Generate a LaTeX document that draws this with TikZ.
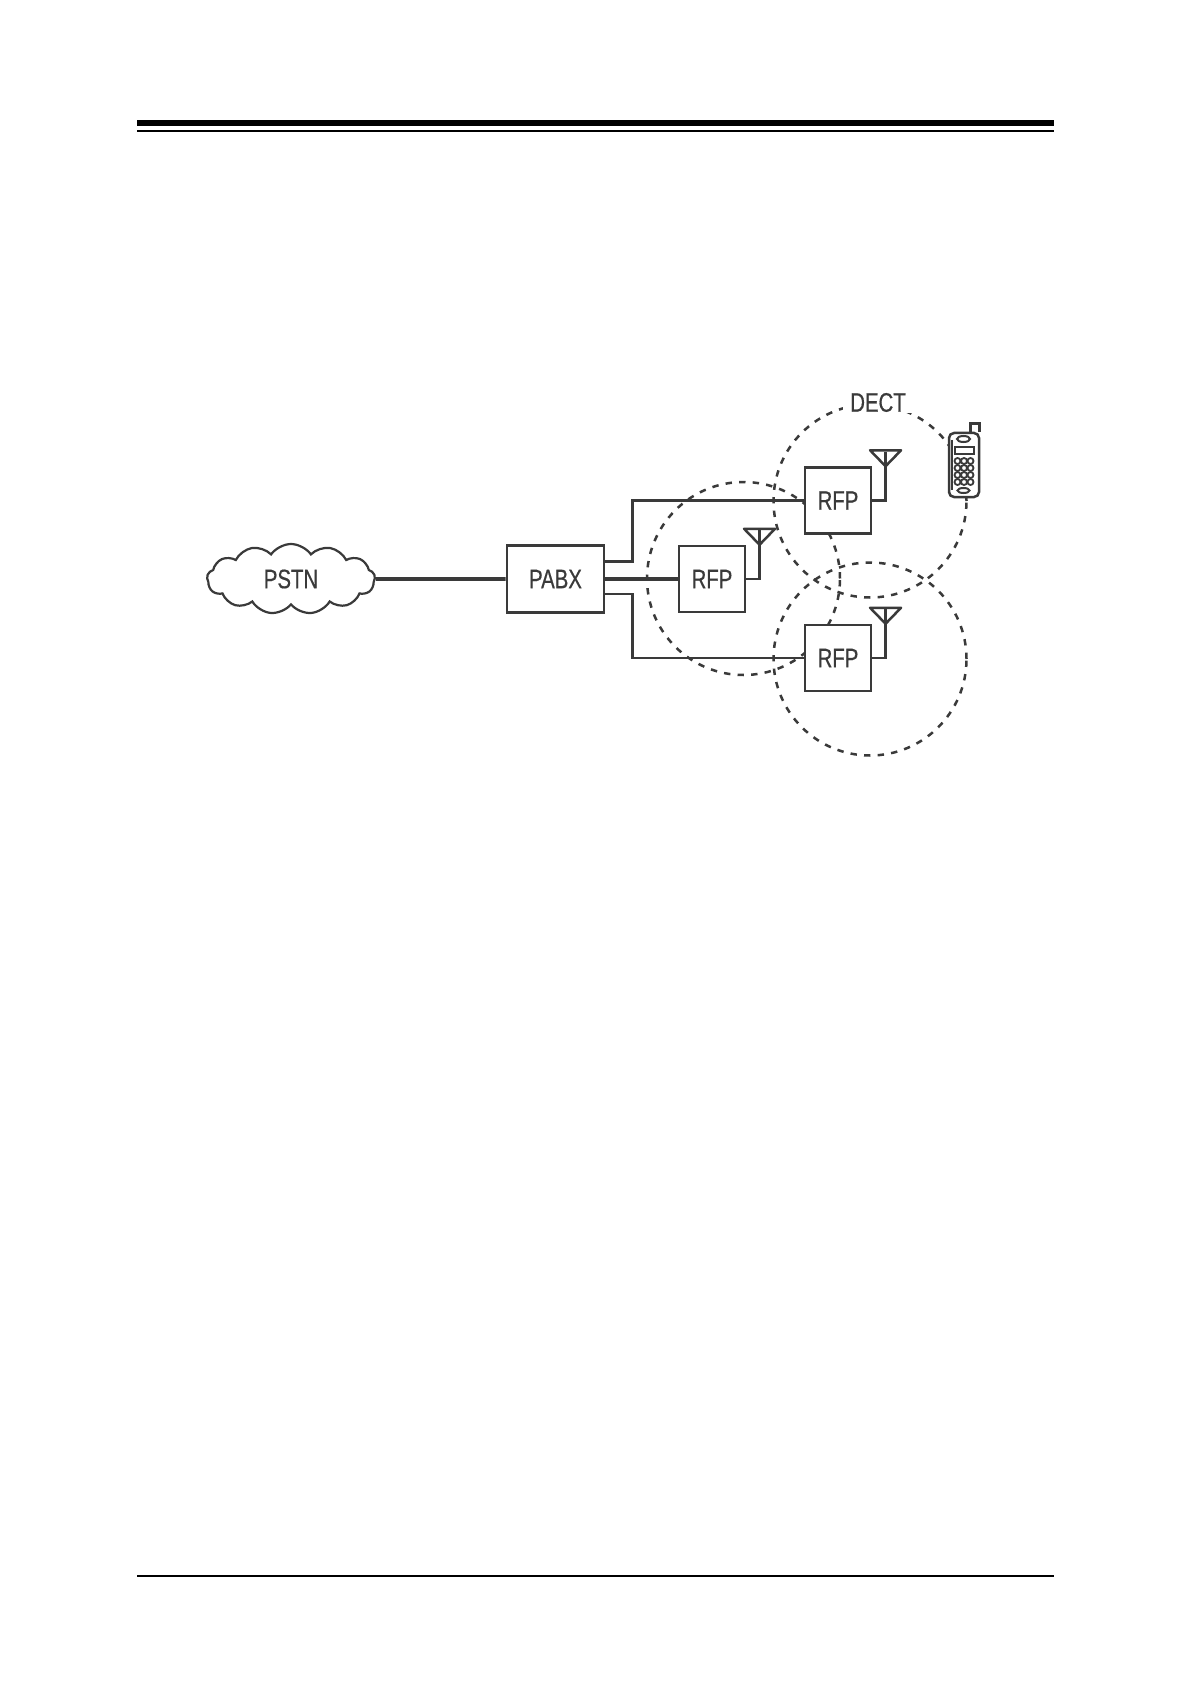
\documentclass[tikz,border=0pt]{standalone}
\usepackage{fontspec}
\usetikzlibrary{positioning,shapes.symbols}
\newfontfamily\labelfont[FakeStretch=0.76,FakeBold=0.5]{Liberation Sans}
\definecolor{Ink}{RGB}{58,58,58}

\begin{document}
\begin{tikzpicture}[
      x=0.5pt,y=-0.5pt,
      every node/.style={font=\labelfont\fontsize{13.4}{15}\selectfont,text=Ink},
      unitBox/.style={draw=Ink,fill=white,line width=1.25pt,inner sep=0pt},
      rfpBox/.style={unitBox,minimum width=32.8pt,minimum height=33pt},
      cellRing/.style={circle,draw=Ink,line width=1.25pt,dash pattern=on 3.2pt off 3.6pt,
                       minimum size=96.5pt,inner sep=0pt},
      wire/.style={draw=Ink,line width=1.25pt},
      trunk/.style={draw=Ink,line width=1.8pt}
    ]
    \useasboundingbox (0,0) rectangle (1191,1684);
    \fill[white] (0,0) rectangle (1191,1684);

    % Page rules
    \draw[line width=3.2pt] (137,123) -- (1054,123);
    \draw[line width=1.1pt] (137,131) -- (1054,131);
    \draw[line width=1pt] (137,1576) -- (1054,1576);

    % Radio cells
    \node(cellA)[cellRing] at (870,501) {};
    \node(cellB)[cellRing] at (743.5,578.5) {};
    \node(cellC)[cellRing] at (870,659) {};

    % Network units
    \node(pstn)[cloud,cloud puffs=13,cloud puff arc=110,aspect=2.4,draw=Ink,fill=white,
                line width=1.1pt,minimum width=84pt,minimum height=35pt,inner sep=0pt] at (291,579) {PSTN};
    \node(pabx)[unitBox,minimum width=48.7pt,minimum height=33.5pt] at (555.5,579) {PABX};
    \node(rfpA)[rfpBox] at (838,500.5) {RFP};
    \node(rfpB)[rfpBox] at (712,579) {RFP};
    \node(rfpC)[rfpBox] at (838,658) {RFP};

    % Wires
    \draw[trunk] (pstn.east) -- (pabx.west);
    \draw[trunk] (pabx.east) -- (rfpB.west);
    \draw[wire] ([yshift=8.7pt]pabx.east) -- ++(27,0) |- (rfpA.west);
    \draw[wire] ([yshift=-7.5pt]pabx.east) -- ++(27,0) |- (rfpC.west);

    % Antennas
    \foreach \rfp in {rfpA,rfpB,rfpC}{
      \draw[wire] (\rfp.east) -- ++(13.5,0) -- ++(0,-49);
      \draw[wire,line join=round] (\rfp.north east) ++(13.5,0) -- ++(-15.5,-16) -- ++(31,0) -- cycle;
    }

    % Handset
    \node(phone)[draw=Ink,fill=white,line width=1.25pt,rounded corners=2.5pt,
                 minimum width=15pt,minimum height=32pt,inner sep=0pt] at (964,465) {};
    \draw[wire] (phone.north east) ++(-1,0) -- ++(0,-8) -- ++(-9,0) -- ++(0,8);
    \draw[draw=Ink,line width=0.8pt] (952,440) -- (952,490);
    \draw[draw=Ink,line width=1pt] (963.5,439) ellipse (6.5 and 3);
    \draw[draw=Ink,line width=1pt] (963.5,490.5) ellipse (6 and 2.5);
    \draw[draw=Ink,line width=1pt] (955,447) rectangle (974,454);
    \foreach \col in {957.5,964,970.5}
      \foreach \row in {461,468,475,482}
        \draw[draw=Ink,line width=0.9pt] (\col,\row) circle (3);

    % Network name
    \node(dect)[fill=white,inner xsep=3.5pt,inner ysep=0.5pt] at (878,402.5) {DECT};
  \end{tikzpicture}
\end{document}
